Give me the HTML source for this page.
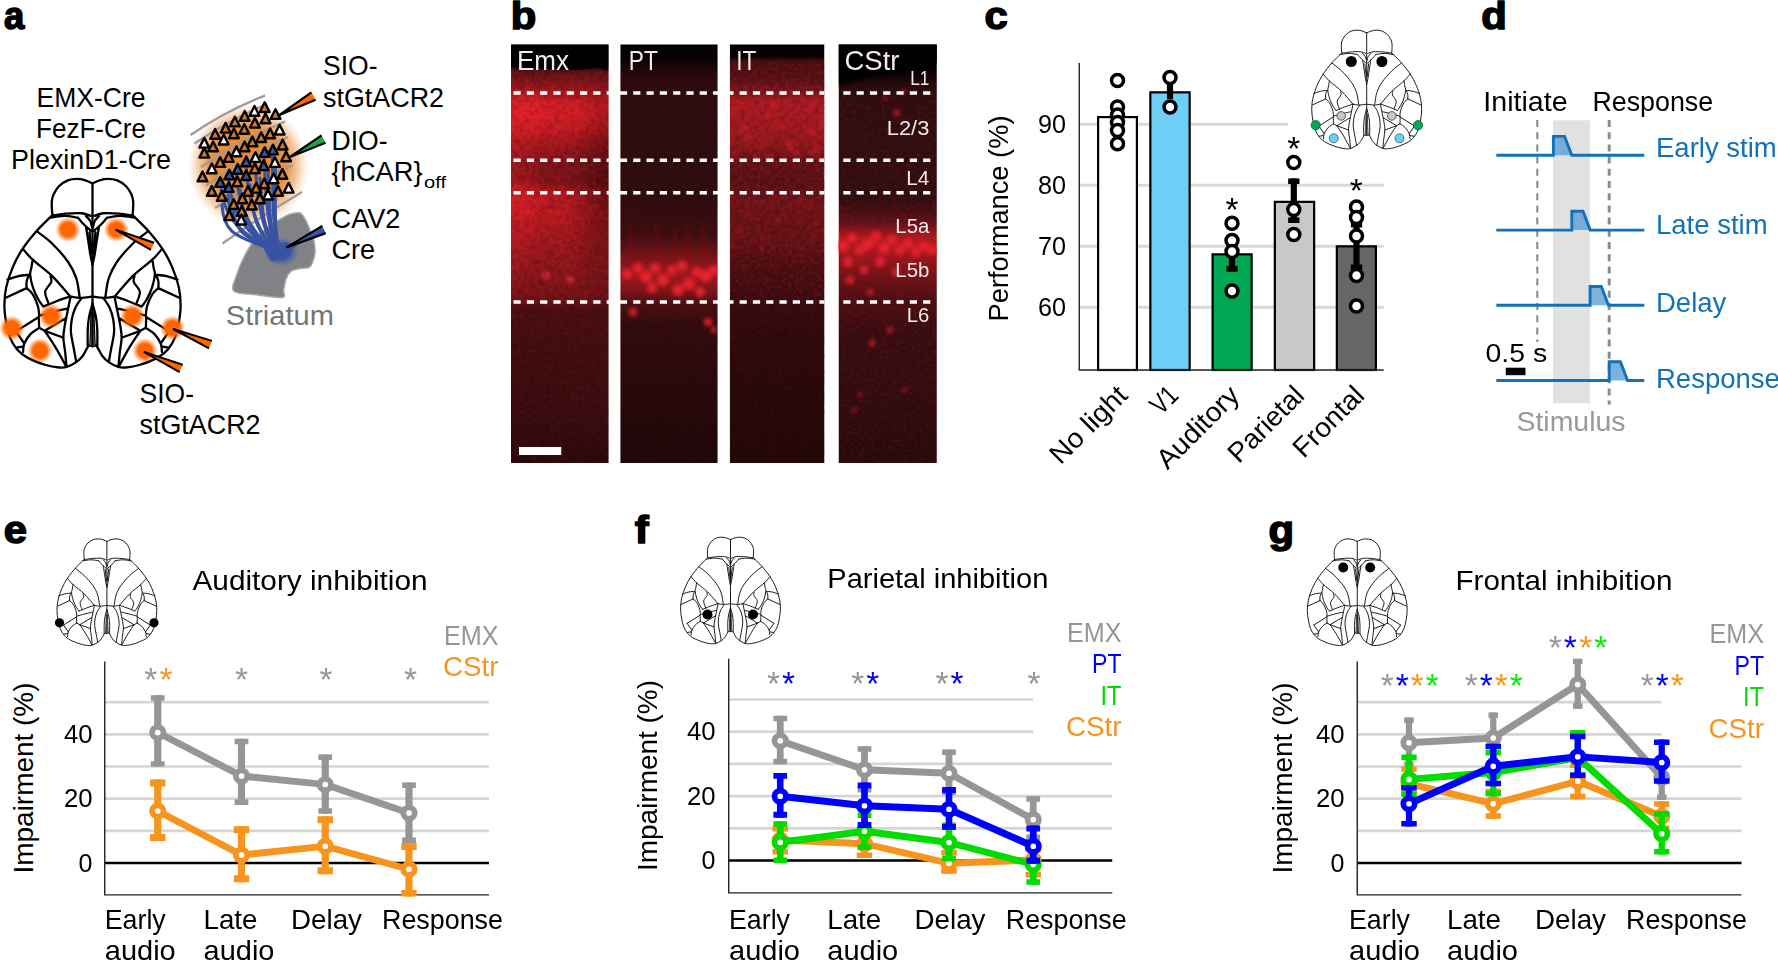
<!DOCTYPE html>
<html><head><meta charset="utf-8"><title>Figure</title>
<style>html,body{margin:0;padding:0;background:#fff}svg{display:block}text{font-family:'Liberation Sans', sans-serif}</style>
</head><body>
<svg width="1778" height="961" viewBox="0 0 1778 961">
<defs>
<g id="bh"><path d="M0.00,2.90 C-0.67,2.62 -2.55,1.62 -4.00,1.20 C-5.45,0.78 -7.03,0.40 -8.70,0.40 C-10.37,0.40 -12.28,0.52 -14.00,1.20 C-15.72,1.88 -17.67,3.20 -19.00,4.50 C-20.33,5.80 -21.33,7.62 -22.00,9.00 C-22.67,10.38 -22.83,11.47 -23.00,12.80 C-23.17,14.13 -23.05,15.68 -23.00,17.00 C-22.95,18.32 -22.75,20.08 -22.70,20.70 M-22.50,21.00 C-21.25,20.82 -17.75,20.12 -15.00,19.90 C-12.25,19.68 -8.33,19.48 -6.00,19.70 C-3.67,19.92 -1.83,20.95 -1.00,21.20 M-24.30,22.30 C-22.92,22.12 -18.68,21.22 -16.00,21.20 C-13.32,21.18 -9.50,22.03 -8.20,22.20 M-22.70,20.70 C-22.97,20.97 -22.85,20.85 -24.30,22.30 C-25.75,23.75 -28.87,26.52 -31.40,29.40 C-33.93,32.28 -37.23,36.22 -39.50,39.60 C-41.77,42.98 -43.43,46.07 -45.00,49.70 C-46.57,53.33 -48.08,57.72 -48.90,61.40 C-49.72,65.08 -49.90,68.53 -49.90,71.80 C-49.90,75.07 -49.42,78.05 -48.90,81.00 C-48.38,83.95 -47.78,86.96 -46.75,89.50 C-45.72,92.04 -44.39,94.33 -42.70,96.25 C-41.01,98.17 -39.30,99.54 -36.60,101.00 C-33.90,102.46 -29.43,104.10 -26.50,105.00 C-23.57,105.90 -20.98,106.22 -19.00,106.40 C-17.02,106.58 -16.23,106.60 -14.60,106.10 C-12.97,105.60 -10.68,104.40 -9.20,103.40 C-7.72,102.40 -6.78,101.52 -5.70,100.10 C-4.62,98.68 -3.40,95.92 -2.70,94.90 C-2.00,93.88 -1.95,94.08 -1.50,94.00 C-1.05,93.92 -0.25,94.33 0.00,94.40 M-8.20,22.20 C-7.62,22.87 -5.95,24.95 -4.70,26.20 C-3.45,27.45 -1.37,29.12 -0.70,29.70 M-3.70,21.20 C-3.28,21.70 -1.77,23.15 -1.20,24.20 C-0.63,25.25 -0.45,26.95 -0.30,27.50 M-3.70,27.20 C-3.48,28.53 -2.82,32.55 -2.40,35.20 C-1.98,37.85 -1.60,40.88 -1.20,43.10 C-0.80,45.32 -0.20,47.60 0.00,48.50 M-1.70,30.50 L-0.40,42.00 M-31.60,29.80 C-30.15,30.95 -25.87,33.82 -22.90,36.70 C-19.93,39.58 -16.08,43.85 -13.80,47.10 C-11.52,50.35 -10.28,52.95 -9.20,56.20 C-8.12,59.45 -7.62,64.87 -7.30,66.60 M-39.50,39.60 C-38.57,40.63 -36.67,43.25 -33.90,45.80 C-31.13,48.35 -26.45,51.45 -22.90,54.90 C-19.35,58.35 -14.32,64.57 -12.60,66.50 M-33.90,45.80 C-34.02,46.55 -34.37,48.88 -34.60,50.30 C-34.83,51.72 -35.47,52.38 -35.30,54.30 C-35.13,56.22 -34.40,59.43 -33.60,61.80 C-32.80,64.17 -31.47,66.77 -30.50,68.50 C-29.53,70.23 -28.25,71.58 -27.80,72.20 M-48.10,57.00 C-47.08,56.67 -44.05,55.45 -42.00,55.00 C-39.95,54.55 -36.83,54.42 -35.80,54.30 M-36.00,54.50 C-36.22,55.08 -37.08,56.78 -37.30,58.00 C-37.52,59.22 -37.30,61.17 -37.30,61.80 M-37.30,61.80 L-49.10,67.20 M-37.30,61.80 C-36.73,62.35 -34.97,63.42 -33.90,65.10 C-32.83,66.78 -31.52,69.87 -30.90,71.90 C-30.28,73.93 -30.28,76.28 -30.20,77.30 C-30.12,78.32 -30.40,76.87 -30.40,78.00 C-30.40,79.13 -30.23,83.08 -30.20,84.10 M-30.40,78.00 L-43.40,86.10 M-30.20,84.10 L-27.10,85.80 M-30.20,84.10 C-31.00,84.67 -33.60,86.03 -35.00,87.50 C-36.40,88.97 -37.88,91.22 -38.60,92.90 C-39.32,94.58 -39.18,96.82 -39.30,97.60 M-43.40,86.10 L-38.60,92.90 M-43.00,95.20 L-39.30,94.60 M-27.10,85.80 L-15.20,78.70 M-27.10,85.80 L-16.40,89.70 M-27.10,85.80 C-26.08,87.33 -23.02,91.68 -21.00,95.00 C-18.98,98.32 -16.00,103.92 -15.00,105.70 M-27.80,72.20 C-26.50,71.67 -22.53,69.95 -20.00,69.00 C-17.47,68.05 -13.83,66.92 -12.60,66.50 M-12.60,66.50 C-11.67,66.63 -9.10,67.28 -7.00,67.30 C-4.90,67.32 -1.17,66.72 0.00,66.60 M-30.20,77.30 C-28.83,76.92 -24.65,75.67 -22.00,75.00 C-19.35,74.33 -15.58,73.58 -14.30,73.30 M-12.45,66.60 C-12.66,67.63 -13.16,70.12 -13.70,72.80 C-14.24,75.48 -15.23,79.88 -15.70,82.70 C-16.17,85.52 -16.53,87.22 -16.50,89.70 C-16.47,92.18 -15.80,94.92 -15.50,97.60 C-15.20,100.28 -14.83,104.43 -14.70,105.80 M-6.20,67.40 C-6.78,68.30 -8.78,70.82 -9.70,72.80 C-10.62,74.78 -11.28,76.98 -11.70,79.30 C-12.12,81.62 -12.37,84.05 -12.20,86.70 C-12.03,89.35 -11.20,92.43 -10.70,95.20 C-10.20,97.97 -9.45,101.95 -9.20,103.30 M0.00,70.50 C-0.32,71.70 -1.45,75.25 -1.90,77.70 C-2.35,80.15 -2.57,82.37 -2.70,85.20 C-2.83,88.03 -2.70,93.12 -2.70,94.70 M-0.50,76.00 L-1.20,94.30 M-23.80,55.00 C-23.73,55.57 -22.90,56.93 -23.40,58.40 C-23.90,59.87 -26.52,61.88 -26.80,63.80 C-27.08,65.72 -25.43,68.72 -25.10,69.90 C-24.77,71.08 -24.85,70.73 -24.80,70.90" fill="none" vector-effect="non-scaling-stroke"/><path d="M0,76 L-0.5,76 L-1.2,94.3 L0,94.4Z" fill="#888" stroke="none"/></g><g id="brain"><use href="#bh"/><use href="#bh" transform="scale(-1,1)"/><path d="M0,2.9 L0,94.4" vector-effect="non-scaling-stroke"/></g>
<radialGradient id="og"><stop offset="0" stop-color="#ff6600"/><stop offset="0.55" stop-color="#ff6600"/><stop offset="1" stop-color="#ff6600" stop-opacity="0"/></radialGradient>
<radialGradient id="glow"><stop offset="0" stop-color="#e8862a"/><stop offset="0.62" stop-color="#e8923f"/><stop offset="0.8" stop-color="#f0b47c" stop-opacity="0.75"/><stop offset="1" stop-color="#f7d9b8" stop-opacity="0"/></radialGradient>
<linearGradient id="ogr" x1="0" x2="1" y1="0" y2="0"><stop offset="0" stop-color="#f26a1b"/><stop offset="0.45" stop-color="#e8731f"/><stop offset="1" stop-color="#1da34a"/></linearGradient>
<radialGradient id="bglow"><stop offset="0" stop-color="#3953a4"/><stop offset="0.5" stop-color="#3953a4"/><stop offset="1" stop-color="#3953a4" stop-opacity="0"/></radialGradient>
<linearGradient id="gE" x1="0" y1="0" x2="0" y2="1"><stop offset="0.0000" stop-color="#000000"/><stop offset="0.0514" stop-color="#0a0000"/><stop offset="0.0633" stop-color="#5a1014"/><stop offset="0.0848" stop-color="#7a151a"/><stop offset="0.1159" stop-color="#a8191f"/><stop offset="0.1446" stop-color="#d01e26"/><stop offset="0.2043" stop-color="#c41c24"/><stop offset="0.2521" stop-color="#9c181e"/><stop offset="0.2808" stop-color="#82161a"/><stop offset="0.3286" stop-color="#7e1519"/><stop offset="0.3596" stop-color="#b81b22"/><stop offset="0.4074" stop-color="#bc1b22"/><stop offset="0.4671" stop-color="#a4191e"/><stop offset="0.5388" stop-color="#8c171b"/><stop offset="0.6057" stop-color="#721418"/><stop offset="0.6344" stop-color="#4a0f12"/><stop offset="0.7539" stop-color="#400e11"/><stop offset="0.8973" stop-color="#380c0f"/><stop offset="1.0000" stop-color="#2a090b"/></linearGradient>
<linearGradient id="gP" x1="0" y1="0" x2="0" y2="1"><stop offset="0.0000" stop-color="#000000"/><stop offset="0.0370" stop-color="#0c0203"/><stop offset="0.0753" stop-color="#2a0a0c"/><stop offset="0.1326" stop-color="#2c0c0e"/><stop offset="0.3716" stop-color="#2d0c0e"/><stop offset="0.4552" stop-color="#3a0d10"/><stop offset="0.5102" stop-color="#781419"/><stop offset="0.5508" stop-color="#a0181f"/><stop offset="0.5914" stop-color="#7a1419"/><stop offset="0.6177" stop-color="#4a0e12"/><stop offset="0.6703" stop-color="#300b0e"/><stop offset="1.0000" stop-color="#1e0708"/></linearGradient>
<linearGradient id="gI" x1="0" y1="0" x2="0" y2="1"><stop offset="0.0000" stop-color="#000000"/><stop offset="0.0275" stop-color="#080102"/><stop offset="0.0418" stop-color="#4a0f12"/><stop offset="0.0848" stop-color="#5c1216"/><stop offset="0.1159" stop-color="#80171c"/><stop offset="0.1326" stop-color="#a81c22"/><stop offset="0.1924" stop-color="#a41b21"/><stop offset="0.2401" stop-color="#90191e"/><stop offset="0.2760" stop-color="#641317"/><stop offset="0.3357" stop-color="#5a1215"/><stop offset="0.3716" stop-color="#70151a"/><stop offset="0.4671" stop-color="#641317"/><stop offset="0.5388" stop-color="#4a0f12"/><stop offset="0.6105" stop-color="#3a0c0f"/><stop offset="0.7061" stop-color="#2e0a0d"/><stop offset="1.0000" stop-color="#230809"/></linearGradient>
<linearGradient id="gC" x1="0" y1="0" x2="0" y2="1"><stop offset="0.0000" stop-color="#000000"/><stop offset="0.0609" stop-color="#050101"/><stop offset="0.0944" stop-color="#260a0c"/><stop offset="0.1326" stop-color="#2e0d10"/><stop offset="0.3716" stop-color="#300d10"/><stop offset="0.4241" stop-color="#5a1216"/><stop offset="0.4624" stop-color="#b01a21"/><stop offset="0.5030" stop-color="#a0181f"/><stop offset="0.5436" stop-color="#781419"/><stop offset="0.6105" stop-color="#4a0f13"/><stop offset="0.6822" stop-color="#360d10"/><stop offset="0.8495" stop-color="#300c0f"/><stop offset="1.0000" stop-color="#260a0c"/></linearGradient>
<filter id="bl3" x="-50%" y="-50%" width="200%" height="200%"><feGaussianBlur stdDeviation="2.2"/></filter>
<filter id="bl8" x="-50%" y="-50%" width="200%" height="200%"><feGaussianBlur stdDeviation="9"/></filter>
<radialGradient id="rD"><stop offset="0" stop-color="#28080a" stop-opacity="0.5"/><stop offset="1" stop-color="#28080a" stop-opacity="0"/></radialGradient>
<radialGradient id="rB"><stop offset="0" stop-color="#ff2a34" stop-opacity="0.3"/><stop offset="1" stop-color="#ff2a34" stop-opacity="0"/></radialGradient>
<filter id="noise" x="0" y="0" width="100%" height="100%" color-interpolation-filters="sRGB"><feTurbulence type="fractalNoise" baseFrequency="0.2" numOctaves="3" seed="7"/><feColorMatrix values="0 0 0 0 0.1  0 0 0 0 0.02  0 0 0 0 0.03  1.7 0 0 0 -0.6"/></filter>
<filter id="noise2" x="0" y="0" width="100%" height="100%" color-interpolation-filters="sRGB"><feTurbulence type="fractalNoise" baseFrequency="0.28" numOctaves="2" seed="11"/><feColorMatrix values="0 0 0 0 0.92  0 0 0 0 0.13  0 0 0 0 0.17  2.2 0 0 0 -1.05"/></filter>
</defs>
<text transform="translate(3.90,29.20) scale(0.96,1)" font-size="38" font-weight="bold" stroke="#000" stroke-width="1.5" stroke-linejoin="round">a</text>
<text transform="translate(510.80,28.80) scale(1.10,1)" font-size="38" font-weight="bold" stroke="#000" stroke-width="1.5" stroke-linejoin="round">b</text>
<text transform="translate(984.60,29.30) scale(1.10,1)" font-size="38" font-weight="bold" stroke="#000" stroke-width="1.5" stroke-linejoin="round">c</text>
<text transform="translate(1481.30,29.20) scale(1.10,1)" font-size="38" font-weight="bold" stroke="#000" stroke-width="1.5" stroke-linejoin="round">d</text>
<text transform="translate(3.80,543.00) scale(1.10,1)" font-size="38" font-weight="bold" stroke="#000" stroke-width="1.5" stroke-linejoin="round">e</text>
<text transform="translate(634.80,542.50) scale(1.10,1)" font-size="38" font-weight="bold" stroke="#000" stroke-width="1.5" stroke-linejoin="round">f</text>
<text transform="translate(1268.60,542.60) scale(1.10,1)" font-size="38" font-weight="bold" stroke="#000" stroke-width="1.5" stroke-linejoin="round">g</text>
<text x="91.00" y="106.50" font-size="27.5" fill="#000" text-anchor="middle" textLength="109.0" lengthAdjust="spacingAndGlyphs">EMX-Cre</text>
<text x="91.00" y="137.50" font-size="27.5" fill="#000" text-anchor="middle" textLength="110.0" lengthAdjust="spacingAndGlyphs">FezF-Cre</text>
<text x="91.00" y="168.50" font-size="27.5" fill="#000" text-anchor="middle" textLength="160.0" lengthAdjust="spacingAndGlyphs">PlexinD1-Cre</text>
<use href="#brain" transform="translate(92.50,178.20) scale(1.7660,1.7790)" stroke="#000" stroke-width="2.30" fill="none" stroke-linecap="round" stroke-linejoin="round"/>
<circle cx="67.9" cy="229.6" r="12.5" fill="url(#og)"/>
<circle cx="116.2" cy="229.6" r="12.5" fill="url(#og)"/>
<circle cx="51.2" cy="316.2" r="12.5" fill="url(#og)"/>
<circle cx="132.5" cy="316.2" r="12.5" fill="url(#og)"/>
<circle cx="11.9" cy="328.1" r="12.5" fill="url(#og)"/>
<circle cx="172.5" cy="328.1" r="12.5" fill="url(#og)"/>
<circle cx="40.0" cy="350.6" r="12.5" fill="url(#og)"/>
<circle cx="145.0" cy="350.6" r="12.5" fill="url(#og)"/>
<path d="M115.6,229.6 L150.9,249.9 L154.1,242.7 Z" fill="#ff6600"/>
<path d="M115.6,229.6 L150.9,249.9 M115.6,229.6 L154.1,242.7" stroke="#000" stroke-width="2.0" fill="none" stroke-linecap="butt"/>
<path d="M173.1,329.0 L209.0,348.3 L212.0,340.9 Z" fill="#ff6600"/>
<path d="M173.1,329.0 L209.0,348.3 M173.1,329.0 L212.0,340.9" stroke="#000" stroke-width="2.0" fill="none" stroke-linecap="butt"/>
<path d="M143.8,351.9 L179.6,372.1 L182.8,364.7 Z" fill="#ff6600"/>
<path d="M143.8,351.9 L179.6,372.1 M143.8,351.9 L182.8,364.7" stroke="#000" stroke-width="2.0" fill="none" stroke-linecap="butt"/>
<text x="139.50" y="402.70" font-size="27.5" fill="#000" textLength="54.5" lengthAdjust="spacingAndGlyphs">SIO-</text>
<text x="139.50" y="434.00" font-size="27.5" fill="#000" textLength="121.0" lengthAdjust="spacingAndGlyphs">stGtACR2</text>
<text x="323.00" y="75.00" font-size="27.5" fill="#000" textLength="54.5" lengthAdjust="spacingAndGlyphs">SIO-</text>
<text x="323.00" y="106.50" font-size="27.5" fill="#000" textLength="121.0" lengthAdjust="spacingAndGlyphs">stGtACR2</text>
<text x="331.50" y="150.00" font-size="27.5" fill="#000" textLength="56.0" lengthAdjust="spacingAndGlyphs">DIO-</text>
<text x="331.50" y="181.00" font-size="27.5" fill="#000" textLength="91.0" lengthAdjust="spacingAndGlyphs">{hCAR}</text>
<text x="424.00" y="187.50" font-size="17" fill="#000" textLength="22.0" lengthAdjust="spacingAndGlyphs">off</text>
<text x="331.50" y="227.50" font-size="27.5" fill="#000" textLength="69.0" lengthAdjust="spacingAndGlyphs">CAV2</text>
<text x="331.50" y="258.50" font-size="27.5" fill="#000" textLength="43.5" lengthAdjust="spacingAndGlyphs">Cre</text>
<text x="225.80" y="325.30" font-size="27.5" fill="#737476" textLength="108.0" lengthAdjust="spacingAndGlyphs">Striatum</text>
<path d="M288.80,214.40 C290.67,214.17 297.10,211.87 300.00,213.00 C302.90,214.13 304.53,218.37 306.20,221.20 C307.87,224.03 308.73,226.87 310.00,230.00 C311.27,233.13 312.97,236.25 313.80,240.00 C314.63,243.75 315.22,248.75 315.00,252.50 C314.78,256.25 313.53,260.00 312.50,262.50 C311.47,265.00 311.08,266.45 308.80,267.50 C306.52,268.55 301.73,268.18 298.80,268.80 C295.87,269.42 293.30,269.53 291.20,271.20 C289.10,272.87 287.45,275.67 286.20,278.80 C284.95,281.93 284.33,286.87 283.70,290.00 C283.07,293.13 286.68,296.77 282.40,297.60 C278.12,298.43 266.07,296.05 258.00,295.00 C249.93,293.95 237.63,294.43 234.00,291.30 C230.37,288.17 234.37,282.25 236.20,276.20 C238.03,270.15 241.45,261.67 245.00,255.00 C248.55,248.33 252.92,241.40 257.50,236.20 C262.08,231.00 267.28,227.43 272.50,223.80 C277.72,220.17 286.08,215.97 288.80,214.40Z" fill="#808285" stroke="#a7a9ac" stroke-width="1.5"/>
<ellipse cx="248.5" cy="166" rx="61" ry="63" fill="url(#glow)"/>
<path d="M190.6,135.0 Q225.5,110.9 265.0,95.6" stroke="#9b9b9b" stroke-width="2.2" fill="none"/>
<path d="M194.5,143.5 Q228.8,120.2 267.0,104.0" stroke="#9b9b9b" stroke-width="2.2" fill="none"/>
<path d="M201.0,167.0 Q241.1,140.7 285.0,121.5" stroke="#9b9b9b" stroke-width="2.2" fill="none"/>
<path d="M206.0,185.5 Q245.0,157.8 288.0,137.0" stroke="#9b9b9b" stroke-width="2.2" fill="none"/>
<path d="M215.0,208.0 Q252.6,183.9 293.0,165.0" stroke="#9b9b9b" stroke-width="2.2" fill="none"/>
<path d="M222.5,243.5 Q261.2,216.1 302.0,192.0" stroke="#9b9b9b" stroke-width="2.2" fill="none"/>
<path d="M221.0,185.0 C223.0,220.0 244.5,236.0 275.5,252.0" stroke="#3953a4" stroke-width="3.1" fill="none" stroke-linecap="round"/>
<path d="M229.0,180.0 C231.0,215.0 248.5,236.0 276.5,252.0" stroke="#3953a4" stroke-width="3.1" fill="none" stroke-linecap="round"/>
<path d="M236.0,172.0 C238.0,207.0 252.0,236.0 277.3,252.0" stroke="#3953a4" stroke-width="3.1" fill="none" stroke-linecap="round"/>
<path d="M246.0,165.0 C248.0,200.0 257.0,236.0 278.5,252.0" stroke="#3953a4" stroke-width="3.1" fill="none" stroke-linecap="round"/>
<path d="M255.0,162.0 C257.0,197.0 261.5,236.0 279.6,252.0" stroke="#3953a4" stroke-width="3.1" fill="none" stroke-linecap="round"/>
<path d="M264.0,155.0 C266.0,190.0 266.0,236.0 280.7,252.0" stroke="#3953a4" stroke-width="3.1" fill="none" stroke-linecap="round"/>
<path d="M272.0,150.0 C274.0,185.0 270.0,236.0 281.6,252.0" stroke="#3953a4" stroke-width="3.1" fill="none" stroke-linecap="round"/>
<path d="M228.0,195.0 C230.0,230.0 248.0,236.0 276.4,252.0" stroke="#3953a4" stroke-width="3.1" fill="none" stroke-linecap="round"/>
<path d="M222.0,205.0 C224.0,240.0 245.0,236.0 275.6,252.0" stroke="#3953a4" stroke-width="3.1" fill="none" stroke-linecap="round"/>
<path d="M275.0,160.0 C277.0,195.0 271.5,236.0 282.0,252.0" stroke="#3953a4" stroke-width="3.1" fill="none" stroke-linecap="round"/>
<path d="M268.0,170.0 C270.0,205.0 268.0,236.0 281.2,252.0" stroke="#3953a4" stroke-width="3.1" fill="none" stroke-linecap="round"/>
<path d="M240.0,190.0 C242.0,225.0 254.0,236.0 277.8,252.0" stroke="#3953a4" stroke-width="3.1" fill="none" stroke-linecap="round"/>
<path d="M250.0,185.0 C252.0,220.0 259.0,236.0 279.0,252.0" stroke="#3953a4" stroke-width="3.1" fill="none" stroke-linecap="round"/>
<path d="M260.0,178.0 C262.0,213.0 264.0,236.0 280.2,252.0" stroke="#3953a4" stroke-width="3.1" fill="none" stroke-linecap="round"/>
<path d="M233.0,205.0 C235.0,240.0 250.5,236.0 277.0,252.0" stroke="#3953a4" stroke-width="3.1" fill="none" stroke-linecap="round"/>
<ellipse cx="281" cy="252" rx="17" ry="14" fill="url(#bglow)"/>
<path d="M262,246 L272,262 L280,258 L290,250 L298,246 L286,242 Z" fill="#3953a4"/>
<path d="M264.7,102.3 L269.6,112.0 L259.8,112.0 Z" fill="url(#ogr)" stroke="#000" stroke-width="2.4" stroke-linejoin="round"/>
<path d="M254.5,106.0 L259.4,115.7 L249.6,115.7 Z" fill="#fff" stroke="#000" stroke-width="2.4" stroke-linejoin="round"/>
<path d="M275.5,109.2 L280.4,118.9 L270.6,118.9 Z" fill="url(#ogr)" stroke="#000" stroke-width="2.4" stroke-linejoin="round"/>
<path d="M244.7,111.0 L249.6,120.7 L239.8,120.7 Z" fill="url(#ogr)" stroke="#000" stroke-width="2.4" stroke-linejoin="round"/>
<path d="M265.5,113.5 L270.4,123.2 L260.6,123.2 Z" fill="url(#ogr)" stroke="#000" stroke-width="2.4" stroke-linejoin="round"/>
<path d="M234.9,116.7 L239.8,126.4 L230.0,126.4 Z" fill="url(#ogr)" stroke="#000" stroke-width="2.4" stroke-linejoin="round"/>
<path d="M254.9,117.9 L259.8,127.6 L250.0,127.6 Z" fill="url(#ogr)" stroke="#000" stroke-width="2.4" stroke-linejoin="round"/>
<path d="M225.6,122.9 L230.5,132.6 L220.7,132.6 Z" fill="url(#ogr)" stroke="#000" stroke-width="2.4" stroke-linejoin="round"/>
<path d="M244.3,124.1 L249.2,133.8 L239.4,133.8 Z" fill="url(#ogr)" stroke="#000" stroke-width="2.4" stroke-linejoin="round"/>
<path d="M279.6,124.8 L284.5,134.5 L274.7,134.5 Z" fill="#fff" stroke="#000" stroke-width="2.4" stroke-linejoin="round"/>
<path d="M233.9,128.5 L238.8,138.2 L229.0,138.2 Z" fill="url(#ogr)" stroke="#000" stroke-width="2.4" stroke-linejoin="round"/>
<path d="M270.1,128.5 L275.0,138.2 L265.2,138.2 Z" fill="url(#ogr)" stroke="#000" stroke-width="2.4" stroke-linejoin="round"/>
<path d="M215.2,129.1 L220.1,138.8 L210.3,138.8 Z" fill="url(#ogr)" stroke="#000" stroke-width="2.4" stroke-linejoin="round"/>
<path d="M261.2,132.3 L266.1,142.0 L256.3,142.0 Z" fill="url(#ogr)" stroke="#000" stroke-width="2.4" stroke-linejoin="round"/>
<path d="M223.7,134.8 L228.6,144.5 L218.8,144.5 Z" fill="#fff" stroke="#000" stroke-width="2.4" stroke-linejoin="round"/>
<path d="M252.4,136.6 L257.3,146.3 L247.5,146.3 Z" fill="url(#ogr)" stroke="#000" stroke-width="2.4" stroke-linejoin="round"/>
<path d="M204.3,137.9 L209.2,147.6 L199.4,147.6 Z" fill="#fff" stroke="#000" stroke-width="2.4" stroke-linejoin="round"/>
<path d="M282.6,139.8 L287.5,149.5 L277.7,149.5 Z" fill="url(#ogr)" stroke="#000" stroke-width="2.4" stroke-linejoin="round"/>
<path d="M213.1,141.6 L218.0,151.3 L208.2,151.3 Z" fill="url(#ogr)" stroke="#000" stroke-width="2.4" stroke-linejoin="round"/>
<path d="M244.6,141.6 L249.5,151.3 L239.7,151.3 Z" fill="url(#ogr)" stroke="#000" stroke-width="2.4" stroke-linejoin="round"/>
<path d="M273.0,144.7 L277.9,154.4 L268.1,154.4 Z" fill="#3953a4" stroke="#000" stroke-width="2.4" stroke-linejoin="round"/>
<path d="M236.4,146.6 L241.3,156.3 L231.5,156.3 Z" fill="#fff" stroke="#000" stroke-width="2.4" stroke-linejoin="round"/>
<path d="M264.7,147.2 L269.6,156.9 L259.8,156.9 Z" fill="#3953a4" stroke="#000" stroke-width="2.4" stroke-linejoin="round"/>
<path d="M204.3,147.9 L209.2,157.6 L199.4,157.6 Z" fill="url(#ogr)" stroke="#000" stroke-width="2.4" stroke-linejoin="round"/>
<path d="M286.1,151.6 L291.0,161.3 L281.2,161.3 Z" fill="url(#ogr)" stroke="#000" stroke-width="2.4" stroke-linejoin="round"/>
<path d="M228.7,152.2 L233.6,161.9 L223.8,161.9 Z" fill="url(#ogr)" stroke="#000" stroke-width="2.4" stroke-linejoin="round"/>
<path d="M255.5,152.2 L260.4,161.9 L250.6,161.9 Z" fill="#fff" stroke="#000" stroke-width="2.4" stroke-linejoin="round"/>
<path d="M246.2,156.6 L251.1,166.3 L241.3,166.3 Z" fill="#3953a4" stroke="#000" stroke-width="2.4" stroke-linejoin="round"/>
<path d="M220.2,157.2 L225.1,166.9 L215.3,166.9 Z" fill="url(#ogr)" stroke="#000" stroke-width="2.4" stroke-linejoin="round"/>
<path d="M274.9,157.2 L279.8,166.9 L270.0,166.9 Z" fill="#fff" stroke="#000" stroke-width="2.4" stroke-linejoin="round"/>
<path d="M263.7,160.4 L268.6,170.1 L258.8,170.1 Z" fill="#3953a4" stroke="#000" stroke-width="2.4" stroke-linejoin="round"/>
<path d="M211.8,163.5 L216.7,173.2 L206.9,173.2 Z" fill="#fff" stroke="#000" stroke-width="2.4" stroke-linejoin="round"/>
<path d="M254.9,163.5 L259.8,173.2 L250.0,173.2 Z" fill="url(#ogr)" stroke="#000" stroke-width="2.4" stroke-linejoin="round"/>
<path d="M237.7,164.1 L242.6,173.8 L232.8,173.8 Z" fill="#3953a4" stroke="#000" stroke-width="2.4" stroke-linejoin="round"/>
<path d="M282.4,169.1 L287.3,178.8 L277.5,178.8 Z" fill="url(#ogr)" stroke="#000" stroke-width="2.4" stroke-linejoin="round"/>
<path d="M229.3,169.7 L234.2,179.4 L224.4,179.4 Z" fill="#3953a4" stroke="#000" stroke-width="2.4" stroke-linejoin="round"/>
<path d="M246.2,170.3 L251.1,180.0 L241.3,180.0 Z" fill="#3953a4" stroke="#000" stroke-width="2.4" stroke-linejoin="round"/>
<path d="M202.5,171.6 L207.4,181.3 L197.6,181.3 Z" fill="url(#ogr)" stroke="#000" stroke-width="2.4" stroke-linejoin="round"/>
<path d="M273.6,173.5 L278.5,183.2 L268.7,183.2 Z" fill="#fff" stroke="#000" stroke-width="2.4" stroke-linejoin="round"/>
<path d="M237.4,176.6 L242.3,186.3 L232.5,186.3 Z" fill="url(#ogr)" stroke="#000" stroke-width="2.4" stroke-linejoin="round"/>
<path d="M220.2,177.2 L225.1,186.9 L215.3,186.9 Z" fill="#3953a4" stroke="#000" stroke-width="2.4" stroke-linejoin="round"/>
<path d="M264.3,178.6 L269.2,188.3 L259.4,188.3 Z" fill="url(#ogr)" stroke="#000" stroke-width="2.4" stroke-linejoin="round"/>
<path d="M228.7,182.2 L233.6,191.9 L223.8,191.9 Z" fill="#3953a4" stroke="#000" stroke-width="2.4" stroke-linejoin="round"/>
<path d="M256.2,182.9 L261.1,192.6 L251.3,192.6 Z" fill="url(#ogr)" stroke="#000" stroke-width="2.4" stroke-linejoin="round"/>
<path d="M288.6,182.9 L293.5,192.6 L283.7,192.6 Z" fill="#fff" stroke="#000" stroke-width="2.4" stroke-linejoin="round"/>
<path d="M211.8,186.1 L216.7,195.8 L206.9,195.8 Z" fill="url(#ogr)" stroke="#000" stroke-width="2.4" stroke-linejoin="round"/>
<path d="M248.0,186.1 L252.9,195.8 L243.1,195.8 Z" fill="url(#ogr)" stroke="#000" stroke-width="2.4" stroke-linejoin="round"/>
<path d="M278.0,186.1 L282.9,195.8 L273.1,195.8 Z" fill="url(#ogr)" stroke="#000" stroke-width="2.4" stroke-linejoin="round"/>
<path d="M268.0,189.8 L272.9,199.5 L263.1,199.5 Z" fill="#fff" stroke="#000" stroke-width="2.4" stroke-linejoin="round"/>
<path d="M221.8,191.0 L226.7,200.7 L216.9,200.7 Z" fill="url(#ogr)" stroke="#000" stroke-width="2.4" stroke-linejoin="round"/>
<path d="M259.9,193.5 L264.8,203.2 L255.0,203.2 Z" fill="url(#ogr)" stroke="#000" stroke-width="2.4" stroke-linejoin="round"/>
<path d="M242.4,193.5 L247.3,203.2 L237.5,203.2 Z" fill="url(#ogr)" stroke="#000" stroke-width="2.4" stroke-linejoin="round"/>
<path d="M233.7,199.2 L238.6,208.9 L228.8,208.9 Z" fill="url(#ogr)" stroke="#000" stroke-width="2.4" stroke-linejoin="round"/>
<path d="M251.8,199.8 L256.7,209.5 L246.9,209.5 Z" fill="url(#ogr)" stroke="#000" stroke-width="2.4" stroke-linejoin="round"/>
<path d="M241.8,206.0 L246.7,215.7 L236.9,215.7 Z" fill="url(#ogr)" stroke="#000" stroke-width="2.4" stroke-linejoin="round"/>
<path d="M229.3,210.4 L234.2,220.1 L224.4,220.1 Z" fill="url(#ogr)" stroke="#000" stroke-width="2.4" stroke-linejoin="round"/>
<path d="M241.2,214.8 L246.1,224.5 L236.3,224.5 Z" fill="#fff" stroke="#000" stroke-width="2.4" stroke-linejoin="round"/>
<path d="M279.5,115.0 L315.6,99.7 L311.4,92.3 Z" fill="#ff6600"/>
<path d="M279.5,115.0 L315.6,99.7 M279.5,115.0 L311.4,92.3" stroke="#000" stroke-width="2.2" fill="none"/>
<path d="M290.0,157.0 L325.5,142.7 L321.5,135.3 Z" fill="#1da34a"/>
<path d="M290.0,157.0 L325.5,142.7 M290.0,157.0 L321.5,135.3" stroke="#000" stroke-width="2.2" fill="none"/>
<path d="M286.5,247.5 L325.7,233.1 L322.3,225.9 Z" fill="#3953a4"/>
<path d="M286.5,247.5 L325.7,233.1 M286.5,247.5 L322.3,225.9" stroke="#000" stroke-width="2.2" fill="none"/>
<clipPath id="cp0"><rect x="511.00" y="44.5" width="97.75" height="418.5"/></clipPath>
<rect x="511.00" y="44.5" width="97.75" height="418.5" fill="url(#gE)"/>
<clipPath id="cp1"><rect x="620.25" y="44.5" width="97.50" height="418.5"/></clipPath>
<rect x="620.25" y="44.5" width="97.50" height="418.5" fill="url(#gP)"/>
<clipPath id="cp2"><rect x="729.75" y="44.5" width="94.50" height="418.5"/></clipPath>
<rect x="729.75" y="44.5" width="94.50" height="418.5" fill="url(#gI)"/>
<clipPath id="cp3"><rect x="838.75" y="44.5" width="98.00" height="418.5"/></clipPath>
<rect x="838.75" y="44.5" width="98.00" height="418.5" fill="url(#gC)"/>
<g clip-path="url(#cp0)"><ellipse cx="612" cy="195" rx="48" ry="135" fill="url(#rD)"/><ellipse cx="508" cy="190" rx="40" ry="130" fill="url(#rB)"/></g>
<g clip-path="url(#cp0)"><g filter="url(#bl8)"><ellipse cx="528" cy="112" rx="26" ry="16" fill="#f0222c" opacity="0.75"/><ellipse cx="575" cy="115" rx="18" ry="12" fill="#e82029" opacity="0.45"/><ellipse cx="520" cy="200" rx="22" ry="14" fill="#e82029" opacity="0.6"/><ellipse cx="604" cy="185" rx="8" ry="50" fill="#300a0c" opacity="0.25"/></g>
<g filter="url(#bl3)"><circle cx="546.5" cy="275.5" r="3.5" fill="#f0303a"/><circle cx="570" cy="280" r="3.5" fill="#f0303a"/></g>
<path d="M511,44.5 H608.75 V71 L604,70 L598,67 L590,69 L570,70 L540,68.5 L520,67 L511,66Z" fill="#000"/></g>
<g clip-path="url(#cp1)"><g filter="url(#bl3)"><circle cx="627" cy="274" r="5" fill="#f0242e" opacity="0.9"/><circle cx="638" cy="268" r="5" fill="#f0242e" opacity="0.9"/><circle cx="646" cy="277" r="6" fill="#f0242e" opacity="0.9"/><circle cx="655" cy="268" r="5" fill="#f0242e" opacity="0.9"/><circle cx="663" cy="280" r="6" fill="#f0242e" opacity="0.9"/><circle cx="672" cy="270" r="5" fill="#f0242e" opacity="0.9"/><circle cx="682" cy="266" r="5" fill="#f0242e" opacity="0.9"/><circle cx="689" cy="284" r="6" fill="#f0242e" opacity="0.9"/><circle cx="697" cy="272" r="5" fill="#f0242e" opacity="0.9"/><circle cx="706" cy="276" r="6" fill="#f0242e" opacity="0.9"/><circle cx="714" cy="270" r="5" fill="#f0242e" opacity="0.9"/><circle cx="652" cy="288" r="5" fill="#f0242e" opacity="0.9"/><circle cx="678" cy="290" r="6" fill="#f0242e" opacity="0.9"/><circle cx="700" cy="292" r="5" fill="#f0242e" opacity="0.9"/><circle cx="633" cy="312" r="4" fill="#f0242e" opacity="0.9"/><circle cx="708" cy="322" r="4" fill="#f0242e" opacity="0.9"/><circle cx="714" cy="330" r="3" fill="#f0242e" opacity="0.9"/><path d="M632,268 L630,225" stroke="#b01a22" stroke-width="1.5" opacity="0.5"/><path d="M646,268 L645,225" stroke="#b01a22" stroke-width="1.5" opacity="0.5"/><path d="M660,268 L657,225" stroke="#b01a22" stroke-width="1.5" opacity="0.5"/><path d="M673,268 L675,225" stroke="#b01a22" stroke-width="1.5" opacity="0.5"/><path d="M688,268 L688,225" stroke="#b01a22" stroke-width="1.5" opacity="0.5"/><path d="M703,268 L703,225" stroke="#b01a22" stroke-width="1.5" opacity="0.5"/></g></g>
<g clip-path="url(#cp2)"><g filter="url(#bl3)"><circle cx="745.3" cy="102.1" r="2.3" fill="#e0242c" opacity="0.45"/><circle cx="815.5" cy="147.6" r="3.0" fill="#e0242c" opacity="0.45"/><circle cx="751.4" cy="131.3" r="2.1" fill="#e0242c" opacity="0.45"/><circle cx="746.9" cy="104.6" r="1.9" fill="#e0242c" opacity="0.45"/><circle cx="816.3" cy="149.4" r="3.1" fill="#e0242c" opacity="0.45"/><circle cx="804.6" cy="110.0" r="2.1" fill="#e0242c" opacity="0.45"/><circle cx="788.7" cy="143.4" r="3.2" fill="#e0242c" opacity="0.45"/><circle cx="812.0" cy="103.4" r="2.7" fill="#e0242c" opacity="0.45"/><circle cx="792.8" cy="129.4" r="1.9" fill="#e0242c" opacity="0.45"/><circle cx="774.6" cy="103.5" r="3.4" fill="#e0242c" opacity="0.45"/><circle cx="810.6" cy="132.0" r="2.1" fill="#e0242c" opacity="0.45"/><circle cx="814.6" cy="133.5" r="3.3" fill="#e0242c" opacity="0.45"/><circle cx="809.0" cy="129.5" r="2.3" fill="#e0242c" opacity="0.45"/><circle cx="786.1" cy="124.7" r="1.8" fill="#e0242c" opacity="0.45"/><circle cx="759.1" cy="148.4" r="1.6" fill="#e0242c" opacity="0.45"/><circle cx="735.3" cy="136.8" r="2.1" fill="#e0242c" opacity="0.45"/><circle cx="780.2" cy="127.2" r="2.2" fill="#e0242c" opacity="0.45"/><circle cx="822.7" cy="110.1" r="2.3" fill="#e0242c" opacity="0.45"/><circle cx="749.6" cy="137.2" r="2.1" fill="#e0242c" opacity="0.45"/><circle cx="763.7" cy="144.3" r="2.1" fill="#e0242c" opacity="0.45"/><circle cx="782.4" cy="154.1" r="1.7" fill="#e0242c" opacity="0.45"/><circle cx="736.7" cy="112.2" r="3.0" fill="#e0242c" opacity="0.45"/><circle cx="787.6" cy="112.7" r="2.2" fill="#e0242c" opacity="0.45"/><circle cx="747.3" cy="126.5" r="1.6" fill="#e0242c" opacity="0.45"/><circle cx="795.2" cy="153.5" r="3.4" fill="#e0242c" opacity="0.45"/><circle cx="798.6" cy="157.5" r="1.5" fill="#e0242c" opacity="0.45"/><circle cx="757.6" cy="157.9" r="3.1" fill="#e0242c" opacity="0.45"/><circle cx="768.8" cy="156.5" r="2.7" fill="#e0242c" opacity="0.45"/><circle cx="806.2" cy="116.2" r="1.9" fill="#e0242c" opacity="0.45"/><circle cx="771.9" cy="106.5" r="2.3" fill="#e0242c" opacity="0.45"/><circle cx="819.5" cy="118.5" r="1.5" fill="#e0242c" opacity="0.45"/><circle cx="735.1" cy="108.5" r="3.1" fill="#e0242c" opacity="0.45"/><circle cx="764.4" cy="116.0" r="1.7" fill="#e0242c" opacity="0.45"/><circle cx="821.3" cy="124.3" r="1.9" fill="#e0242c" opacity="0.45"/><circle cx="736.5" cy="101.4" r="1.8" fill="#e0242c" opacity="0.45"/><circle cx="793.3" cy="107.3" r="1.6" fill="#e0242c" opacity="0.45"/><circle cx="776.1" cy="113.4" r="3.5" fill="#e0242c" opacity="0.45"/><circle cx="742.2" cy="130.8" r="3.0" fill="#e0242c" opacity="0.45"/><circle cx="768.7" cy="159.2" r="2.5" fill="#e0242c" opacity="0.45"/><circle cx="753.3" cy="123.5" r="1.6" fill="#e0242c" opacity="0.45"/><circle cx="769.8" cy="113.4" r="3.3" fill="#e0242c" opacity="0.45"/><circle cx="807.5" cy="128.9" r="1.6" fill="#e0242c" opacity="0.45"/><circle cx="754.4" cy="113.0" r="1.9" fill="#e0242c" opacity="0.45"/><circle cx="752.3" cy="151.9" r="1.8" fill="#e0242c" opacity="0.45"/><circle cx="735.7" cy="155.5" r="2.6" fill="#e0242c" opacity="0.45"/><circle cx="822.1" cy="123.0" r="3.3" fill="#e0242c" opacity="0.45"/><circle cx="791.2" cy="147.0" r="3.0" fill="#e0242c" opacity="0.45"/><circle cx="776.5" cy="103.8" r="1.9" fill="#e0242c" opacity="0.45"/><circle cx="811.4" cy="153.8" r="3.3" fill="#e0242c" opacity="0.45"/><circle cx="762.0" cy="138.7" r="3.1" fill="#e0242c" opacity="0.45"/><circle cx="790.1" cy="148.5" r="2.6" fill="#e0242c" opacity="0.45"/><circle cx="791.2" cy="140.5" r="2.0" fill="#e0242c" opacity="0.45"/><circle cx="815.9" cy="157.3" r="1.6" fill="#e0242c" opacity="0.45"/><circle cx="820.3" cy="157.6" r="2.8" fill="#e0242c" opacity="0.45"/><circle cx="735.1" cy="153.7" r="1.8" fill="#e0242c" opacity="0.45"/><circle cx="820.1" cy="139.4" r="1.6" fill="#e0242c" opacity="0.45"/><circle cx="746.4" cy="137.4" r="2.6" fill="#e0242c" opacity="0.45"/><circle cx="799.7" cy="155.5" r="1.9" fill="#e0242c" opacity="0.45"/><circle cx="731.3" cy="155.2" r="1.5" fill="#e0242c" opacity="0.45"/><circle cx="811.6" cy="105.2" r="3.1" fill="#e0242c" opacity="0.45"/><circle cx="803.0" cy="247.7" r="2.3" fill="#d02028" opacity="0.35"/><circle cx="811.8" cy="207.1" r="2.5" fill="#d02028" opacity="0.35"/><circle cx="761.4" cy="248.5" r="2.7" fill="#d02028" opacity="0.35"/><circle cx="774.4" cy="226.6" r="1.5" fill="#d02028" opacity="0.35"/><circle cx="734.1" cy="230.7" r="2.2" fill="#d02028" opacity="0.35"/><circle cx="810.6" cy="231.5" r="1.7" fill="#d02028" opacity="0.35"/><circle cx="764.4" cy="241.1" r="2.3" fill="#d02028" opacity="0.35"/><circle cx="732.0" cy="245.3" r="2.7" fill="#d02028" opacity="0.35"/><circle cx="738.8" cy="227.6" r="2.1" fill="#d02028" opacity="0.35"/><circle cx="803.4" cy="213.7" r="1.9" fill="#d02028" opacity="0.35"/><circle cx="775.8" cy="253.0" r="1.6" fill="#d02028" opacity="0.35"/><circle cx="741.5" cy="232.3" r="2.8" fill="#d02028" opacity="0.35"/><circle cx="778.1" cy="221.0" r="2.8" fill="#d02028" opacity="0.35"/><circle cx="802.4" cy="199.0" r="2.8" fill="#d02028" opacity="0.35"/><circle cx="749.0" cy="213.1" r="2.8" fill="#d02028" opacity="0.35"/><circle cx="769.9" cy="242.9" r="1.8" fill="#d02028" opacity="0.35"/><circle cx="811.4" cy="205.6" r="1.7" fill="#d02028" opacity="0.35"/><circle cx="776.5" cy="215.3" r="2.3" fill="#d02028" opacity="0.35"/><circle cx="814.2" cy="237.6" r="1.5" fill="#d02028" opacity="0.35"/><circle cx="759.7" cy="227.7" r="2.2" fill="#d02028" opacity="0.35"/><circle cx="796.8" cy="224.1" r="1.6" fill="#d02028" opacity="0.35"/><circle cx="753.6" cy="245.9" r="2.0" fill="#d02028" opacity="0.35"/><circle cx="801.5" cy="254.1" r="2.4" fill="#d02028" opacity="0.35"/><circle cx="793.3" cy="231.6" r="2.0" fill="#d02028" opacity="0.35"/><circle cx="815.0" cy="223.0" r="2.9" fill="#d02028" opacity="0.35"/></g></g>
<g clip-path="url(#cp3)"><g filter="url(#bl3)"><circle cx="843" cy="246" r="6" fill="#f0242e" opacity="0.85"/><circle cx="852" cy="238" r="5" fill="#f0242e" opacity="0.85"/><circle cx="860" cy="250" r="5" fill="#f0242e" opacity="0.85"/><circle cx="868" cy="244" r="6" fill="#f0242e" opacity="0.85"/><circle cx="876" cy="236" r="5" fill="#f0242e" opacity="0.85"/><circle cx="884" cy="248" r="6" fill="#f0242e" opacity="0.85"/><circle cx="892" cy="240" r="5" fill="#f0242e" opacity="0.85"/><circle cx="900" cy="250" r="5" fill="#f0242e" opacity="0.85"/><circle cx="908" cy="244" r="5" fill="#f0242e" opacity="0.85"/><circle cx="916" cy="252" r="5" fill="#f0242e" opacity="0.85"/><circle cx="924" cy="246" r="5" fill="#f0242e" opacity="0.85"/><circle cx="932" cy="250" r="5" fill="#f0242e" opacity="0.85"/><circle cx="848" cy="262" r="5" fill="#f0242e" opacity="0.85"/><circle cx="864" cy="270" r="4" fill="#f0242e" opacity="0.85"/><circle cx="880" cy="262" r="5" fill="#f0242e" opacity="0.85"/><circle cx="896" cy="272" r="4" fill="#f0242e" opacity="0.85"/><circle cx="850" cy="280" r="4" fill="#f0242e" opacity="0.85"/><circle cx="870" cy="292" r="3" fill="#f0242e" opacity="0.85"/><circle cx="885" cy="98" r="2" fill="#f0242e" opacity="0.85"/><circle cx="897" cy="113" r="3" fill="#f0242e" opacity="0.85"/><circle cx="904" cy="91" r="2" fill="#f0242e" opacity="0.85"/><circle cx="890" cy="330" r="3" fill="#f0242e" opacity="0.85"/><circle cx="872" cy="343" r="3" fill="#f0242e" opacity="0.85"/><circle cx="860" cy="395" r="2" fill="#f0242e" opacity="0.85"/><circle cx="855" cy="410" r="2" fill="#f0242e" opacity="0.85"/><circle cx="905" cy="390" r="2" fill="#f0242e" opacity="0.85"/></g><path d="M830,40 H945 V62 L925,65 L905,69 L880,75 L860,80 L845,84 L830,87Z" fill="#030000" filter="url(#bl3)"/></g>
<rect x="511" y="70" width="97.75" height="393" filter="url(#noise)" opacity="0.3"/>
<rect x="729.75" y="62" width="94.5" height="401" filter="url(#noise)" opacity="0.3"/>
<rect x="729.75" y="62" width="94.5" height="240" filter="url(#noise2)" opacity="0.3"/>
<rect x="729.75" y="302" width="94.5" height="161" filter="url(#noise2)" opacity="0.1"/>
<rect x="511" y="70" width="97.75" height="232" filter="url(#noise2)" opacity="0.28"/>
<rect x="511" y="302" width="97.75" height="161" filter="url(#noise2)" opacity="0.14"/>
<rect x="838.75" y="88" width="98" height="375" filter="url(#noise2)" opacity="0.2"/>
<rect x="620.25" y="80" width="97.5" height="383" filter="url(#noise2)" opacity="0.08"/>
<path d="M513.5,93.00 H824.25" stroke="#fff" stroke-width="3.6" stroke-dasharray="7.2 6.1" fill="none"/>
<path d="M843.3,93.00 H931" stroke="#fff" stroke-width="3.6" stroke-dasharray="7.2 6.1" fill="none"/>
<path d="M513.5,160.25 H824.25" stroke="#fff" stroke-width="3.6" stroke-dasharray="7.2 6.1" fill="none"/>
<path d="M843.3,160.25 H931" stroke="#fff" stroke-width="3.6" stroke-dasharray="7.2 6.1" fill="none"/>
<path d="M513.5,192.75 H824.25" stroke="#fff" stroke-width="3.6" stroke-dasharray="7.2 6.1" fill="none"/>
<path d="M843.3,192.75 H931" stroke="#fff" stroke-width="3.6" stroke-dasharray="7.2 6.1" fill="none"/>
<path d="M513.5,302.00 H824.25" stroke="#fff" stroke-width="3.6" stroke-dasharray="7.2 6.1" fill="none"/>
<path d="M843.3,302.00 H931" stroke="#fff" stroke-width="3.6" stroke-dasharray="7.2 6.1" fill="none"/>
<rect x="608.75" y="40" width="11.50" height="430" fill="#fff"/>
<rect x="717.75" y="40" width="12.00" height="430" fill="#fff"/>
<text x="517.00" y="69.50" font-size="27.5" fill="#f7eaea" textLength="52.0" lengthAdjust="spacingAndGlyphs">Emx</text>
<text x="628.75" y="69.50" font-size="27.5" fill="#f7eaea" textLength="29.0" lengthAdjust="spacingAndGlyphs">PT</text>
<text x="736.25" y="69.50" font-size="27.5" fill="#f7eaea" textLength="20.0" lengthAdjust="spacingAndGlyphs">IT</text>
<text x="844.50" y="69.50" font-size="27.5" fill="#f7eaea" textLength="55.0" lengthAdjust="spacingAndGlyphs">CStr</text>
<text x="929.30" y="85.00" font-size="21" fill="#f7eaea" text-anchor="end" textLength="19.0" lengthAdjust="spacingAndGlyphs">L1</text>
<text x="929.30" y="135.00" font-size="21" fill="#f7eaea" text-anchor="end" textLength="42.5" lengthAdjust="spacingAndGlyphs">L2/3</text>
<text x="929.30" y="184.50" font-size="21" fill="#f7eaea" text-anchor="end" textLength="23.0" lengthAdjust="spacingAndGlyphs">L4</text>
<text x="929.30" y="232.50" font-size="21" fill="#f7eaea" text-anchor="end" textLength="34.0" lengthAdjust="spacingAndGlyphs">L5a</text>
<text x="929.30" y="277.00" font-size="21" fill="#f7eaea" text-anchor="end" textLength="34.0" lengthAdjust="spacingAndGlyphs">L5b</text>
<text x="929.30" y="322.00" font-size="21" fill="#f7eaea" text-anchor="end" textLength="22.5" lengthAdjust="spacingAndGlyphs">L6</text>
<rect x="519" y="447" width="42.25" height="8" fill="#fff"/>
<path d="M1080,124.2 H1288" stroke="#d9d9d9" stroke-width="3.1"/>
<path d="M1080,185.20 H1383.75" stroke="#d9d9d9" stroke-width="3.1"/>
<path d="M1080,246.20 H1383.75" stroke="#d9d9d9" stroke-width="3.1"/>
<path d="M1080,307.20 H1383.75" stroke="#d9d9d9" stroke-width="3.1"/>
<rect x="1098.10" y="117.10" width="38.80" height="252.90" fill="#fff" stroke="#000" stroke-width="2.2"/>
<rect x="1150.35" y="92.35" width="39.30" height="277.65" fill="#6dcff6" stroke="#000" stroke-width="2.2"/>
<rect x="1212.60" y="254.35" width="39.05" height="115.65" fill="#00a651" stroke="#000" stroke-width="2.2"/>
<rect x="1274.85" y="201.85" width="39.30" height="168.15" fill="#c8c8c8" stroke="#000" stroke-width="2.2"/>
<rect x="1336.85" y="246.35" width="39.05" height="123.65" fill="#666666" stroke="#000" stroke-width="2.2"/>
<path d="M1079.25,63 V370 H1383.75" stroke="#222" stroke-width="1.4" fill="none"/>
<path d="M1117.50,108.00 V124.00" stroke="#000" stroke-width="6.2"/>
<path d="M1117.50,110.75 H1117.50 M1117.50,121.25 H1117.50" stroke="#000" stroke-width="5.5"/>
<path d="M1170.00,84.00 V99.00" stroke="#000" stroke-width="6.2"/>
<path d="M1170.00,86.75 H1170.00 M1170.00,96.25 H1170.00" stroke="#000" stroke-width="5.5"/>
<path d="M1232.00,236.00 V271.50" stroke="#000" stroke-width="6.2"/>
<path d="M1226.35,238.75 H1237.65 M1226.35,268.75 H1237.65" stroke="#000" stroke-width="5.5"/>
<path d="M1293.80,178.40 V223.00" stroke="#000" stroke-width="6.2"/>
<path d="M1288.15,181.15 H1299.45 M1288.15,220.25 H1299.45" stroke="#000" stroke-width="5.5"/>
<path d="M1356.50,222.00 V270.00" stroke="#000" stroke-width="6.2"/>
<path d="M1350.85,224.75 H1362.15 M1350.85,267.25 H1362.15" stroke="#000" stroke-width="5.5"/>
<circle cx="1117.50" cy="80.50" r="6.0" fill="#fff" stroke="#000" stroke-width="3.5"/>
<circle cx="1117.50" cy="107.00" r="6.0" fill="#fff" stroke="#000" stroke-width="3.5"/>
<circle cx="1117.50" cy="115.00" r="6.0" fill="#fff" stroke="#000" stroke-width="3.5"/>
<circle cx="1117.50" cy="122.50" r="6.0" fill="#fff" stroke="#000" stroke-width="3.5"/>
<circle cx="1117.50" cy="130.50" r="6.0" fill="#fff" stroke="#000" stroke-width="3.5"/>
<circle cx="1117.50" cy="143.75" r="6.0" fill="#fff" stroke="#000" stroke-width="3.5"/>
<circle cx="1170.00" cy="77.50" r="6.0" fill="#fff" stroke="#000" stroke-width="3.5"/>
<circle cx="1170.00" cy="107.00" r="6.0" fill="#fff" stroke="#000" stroke-width="3.5"/>
<circle cx="1232.00" cy="223.25" r="6.0" fill="#fff" stroke="#000" stroke-width="3.5"/>
<circle cx="1232.00" cy="240.50" r="6.0" fill="#fff" stroke="#000" stroke-width="3.5"/>
<circle cx="1232.00" cy="251.50" r="6.0" fill="#fff" stroke="#000" stroke-width="3.5"/>
<circle cx="1232.00" cy="291.00" r="6.0" fill="#fff" stroke="#000" stroke-width="3.5"/>
<circle cx="1293.80" cy="162.40" r="6.0" fill="#fff" stroke="#000" stroke-width="3.5"/>
<circle cx="1293.80" cy="209.50" r="6.0" fill="#fff" stroke="#000" stroke-width="3.5"/>
<circle cx="1293.80" cy="234.50" r="6.0" fill="#fff" stroke="#000" stroke-width="3.5"/>
<circle cx="1356.50" cy="207.00" r="6.0" fill="#fff" stroke="#000" stroke-width="3.5"/>
<circle cx="1356.50" cy="217.50" r="6.0" fill="#fff" stroke="#000" stroke-width="3.5"/>
<circle cx="1356.50" cy="236.00" r="6.0" fill="#fff" stroke="#000" stroke-width="3.5"/>
<circle cx="1356.50" cy="275.50" r="6.0" fill="#fff" stroke="#000" stroke-width="3.5"/>
<circle cx="1356.50" cy="306.00" r="6.0" fill="#fff" stroke="#000" stroke-width="3.5"/>
<text x="1232.00" y="221.10" font-size="33.5" fill="#000" text-anchor="middle">*</text>
<text x="1293.80" y="159.70" font-size="33.5" fill="#000" text-anchor="middle">*</text>
<text x="1356.30" y="202.30" font-size="33.5" fill="#000" text-anchor="middle">*</text>
<text x="1066.00" y="132.90" font-size="25" fill="#000" text-anchor="end" textLength="28.0" lengthAdjust="spacingAndGlyphs">90</text>
<text x="1066.00" y="193.90" font-size="25" fill="#000" text-anchor="end" textLength="28.0" lengthAdjust="spacingAndGlyphs">80</text>
<text x="1066.00" y="254.90" font-size="25" fill="#000" text-anchor="end" textLength="28.0" lengthAdjust="spacingAndGlyphs">70</text>
<text x="1066.00" y="315.90" font-size="25" fill="#000" text-anchor="end" textLength="28.0" lengthAdjust="spacingAndGlyphs">60</text>
<text transform="translate(1008.00,218.50) rotate(-90)" font-size="27.5" fill="#000" text-anchor="middle" textLength="206.0" lengthAdjust="spacingAndGlyphs">Performance (%)</text>
<text transform="translate(1129.00,397.00) rotate(-45)" font-size="27.5" fill="#000" text-anchor="end" textLength="97.0" lengthAdjust="spacingAndGlyphs">No light</text>
<text transform="translate(1180.00,397.00) rotate(-45)" font-size="27.5" fill="#000" text-anchor="end" textLength="27.0" lengthAdjust="spacingAndGlyphs">V1</text>
<text transform="translate(1241.00,397.00) rotate(-45)" font-size="27.5" fill="#000" text-anchor="end" textLength="104.0" lengthAdjust="spacingAndGlyphs">Auditory</text>
<text transform="translate(1306.00,397.00) rotate(-45)" font-size="27.5" fill="#000" text-anchor="end" textLength="95.0" lengthAdjust="spacingAndGlyphs">Parietal</text>
<text transform="translate(1366.00,397.00) rotate(-45)" font-size="27.5" fill="#000" text-anchor="end" textLength="88.0" lengthAdjust="spacingAndGlyphs">Frontal</text>
<use href="#brain" transform="translate(1366.70,29.70) scale(1.1010,1.1190)" stroke="#111" stroke-width="0.95" fill="none" stroke-linecap="round" stroke-linejoin="round"/>
<circle cx="1351.3" cy="61.5" r="5.5" fill="#000" stroke="none" stroke-width="0.8"/>
<circle cx="1381.9" cy="61.5" r="5.5" fill="#000" stroke="none" stroke-width="0.8"/>
<circle cx="1341.2" cy="115.9" r="4.3" fill="#c8c8c8" stroke="#333" stroke-width="0.8"/>
<circle cx="1391.8" cy="115.9" r="4.3" fill="#c8c8c8" stroke="#333" stroke-width="0.8"/>
<circle cx="1315.7" cy="125.2" r="4.6" fill="#00a651" stroke="#064" stroke-width="0.8"/>
<circle cx="1418.0" cy="125.2" r="4.6" fill="#00a651" stroke="#064" stroke-width="0.8"/>
<circle cx="1333.8" cy="138.3" r="4.5" fill="#6dcff6" stroke="#357" stroke-width="0.8"/>
<circle cx="1399.5" cy="138.3" r="4.5" fill="#6dcff6" stroke="#357" stroke-width="0.8"/>
<text x="1483.30" y="110.60" font-size="27.5" fill="#000" textLength="84.3" lengthAdjust="spacingAndGlyphs">Initiate</text>
<text x="1592.40" y="110.60" font-size="27.5" fill="#000" textLength="120.8" lengthAdjust="spacingAndGlyphs">Response</text>
<rect x="1553" y="120.3" width="37" height="283" fill="#e1e1e1"/>
<path d="M1537.3,120 V342" stroke="#858585" stroke-width="2" stroke-dasharray="7 5.2"/>
<path d="M1609.2,120 V404.5" stroke="#8c8c8c" stroke-width="3" stroke-dasharray="7 5.2"/>
<path d="M1553.4,155.2 V136.4 H1564.6 L1571.8,155.2 Z" fill="#5b9fd2" opacity="0.8"/>
<path d="M1496.3,155.2 H1553.4 V136.4 H1564.6 L1571.8,155.2 H1644.3" stroke="#0f72ba" stroke-width="2.9" fill="none" stroke-linejoin="miter"/>
<text x="1656.00" y="157.40" font-size="27.5" fill="#0f72ba" textLength="120.7" lengthAdjust="spacingAndGlyphs">Early stim</text>
<path d="M1571.8,230.1 V211.3 H1583.0 L1590.2,230.1 Z" fill="#5b9fd2" opacity="0.8"/>
<path d="M1496.3,230.1 H1571.8 V211.3 H1583.0 L1590.2,230.1 H1644.3" stroke="#0f72ba" stroke-width="2.9" fill="none" stroke-linejoin="miter"/>
<text x="1656.00" y="234.20" font-size="27.5" fill="#0f72ba" textLength="111.6" lengthAdjust="spacingAndGlyphs">Late stim</text>
<path d="M1590.1,305.3 V286.5 H1601.3 L1608.5,305.3 Z" fill="#5b9fd2" opacity="0.8"/>
<path d="M1496.3,305.3 H1590.1 V286.5 H1601.3 L1608.5,305.3 H1644.3" stroke="#0f72ba" stroke-width="2.9" fill="none" stroke-linejoin="miter"/>
<text x="1656.00" y="311.50" font-size="27.5" fill="#0f72ba" textLength="70.3" lengthAdjust="spacingAndGlyphs">Delay</text>
<path d="M1609.2,380.5 V361.7 H1620.4 L1627.6,380.5 Z" fill="#5b9fd2" opacity="0.8"/>
<path d="M1496.3,380.5 H1609.2 V361.7 H1620.4 L1627.6,380.5 H1644.3" stroke="#0f72ba" stroke-width="2.9" fill="none" stroke-linejoin="miter"/>
<text x="1656.00" y="388.30" font-size="27.5" fill="#0f72ba" textLength="123.8" lengthAdjust="spacingAndGlyphs">Response</text>
<text x="1485.60" y="361.50" font-size="25" fill="#000" textLength="61.5" lengthAdjust="spacingAndGlyphs">0.5 s</text>
<rect x="1505.8" y="367.7" width="19.7" height="7.5" fill="#000"/>
<text x="1516.50" y="430.90" font-size="27.5" fill="#999" textLength="109.0" lengthAdjust="spacingAndGlyphs">Stimulus</text>
<path d="M104.75,830.83 H489.00" stroke="#d5d5d5" stroke-width="2.7"/>
<path d="M104.75,798.66 H489.00" stroke="#d5d5d5" stroke-width="2.7"/>
<path d="M104.75,766.49 H489.00" stroke="#d5d5d5" stroke-width="2.7"/>
<path d="M104.75,734.32 H489.00" stroke="#d5d5d5" stroke-width="2.7"/>
<path d="M104.75,702.15 H489.00" stroke="#d5d5d5" stroke-width="2.7"/>
<path d="M104.75,863.00 H489.00" stroke="#000" stroke-width="2.6"/>
<path d="M104.75,661.40 V894.90 H489.00" stroke="#222" stroke-width="1.4" fill="none"/>
<clipPath id="cl104"><rect x="84.8" y="621.4" width="444.2" height="275.0"/></clipPath>
<g clip-path="url(#cl104)">
<path d="M157.75,695.25 V766.60" stroke="#969696" stroke-width="7.20"/>
<path d="M150.88,697.95 H164.62 M150.88,763.90 H164.62" stroke="#969696" stroke-width="5.40"/>
<path d="M241.50,738.75 V805.00" stroke="#969696" stroke-width="7.20"/>
<path d="M234.62,741.45 H248.38 M234.62,802.30 H248.38" stroke="#969696" stroke-width="5.40"/>
<path d="M325.25,754.50 V813.75" stroke="#969696" stroke-width="7.20"/>
<path d="M318.38,757.20 H332.12 M318.38,811.05 H332.12" stroke="#969696" stroke-width="5.40"/>
<path d="M409.00,782.50 V843.00" stroke="#969696" stroke-width="7.20"/>
<path d="M402.12,785.20 H415.88 M402.12,840.30 H415.88" stroke="#969696" stroke-width="5.40"/>
<path d="M157.75,732.50 L241.50,776.00 L325.25,784.50 L409.00,813.00" stroke="#969696" stroke-width="6.9" fill="none" stroke-linejoin="round"/>
<circle cx="157.75" cy="732.50" r="5.7" fill="#fff" stroke="#969696" stroke-width="5.7"/>
<circle cx="241.50" cy="776.00" r="5.7" fill="#fff" stroke="#969696" stroke-width="5.7"/>
<circle cx="325.25" cy="784.50" r="5.7" fill="#fff" stroke="#969696" stroke-width="5.7"/>
<circle cx="409.00" cy="813.00" r="5.7" fill="#fff" stroke="#969696" stroke-width="5.7"/>
<path d="M157.75,779.40 V841.00" stroke="#f7941d" stroke-width="7.20"/>
<path d="M150.05,782.90 H165.45 M150.05,837.50 H165.45" stroke="#f7941d" stroke-width="7.00"/>
<path d="M241.50,826.25 V882.25" stroke="#f7941d" stroke-width="7.20"/>
<path d="M233.80,829.75 H249.20 M233.80,878.75 H249.20" stroke="#f7941d" stroke-width="7.00"/>
<path d="M325.25,816.25 V874.25" stroke="#f7941d" stroke-width="7.20"/>
<path d="M317.55,819.75 H332.95 M317.55,870.75 H332.95" stroke="#f7941d" stroke-width="7.00"/>
<path d="M409.00,843.00 V897.00" stroke="#f7941d" stroke-width="7.20"/>
<path d="M401.30,846.50 H416.70 M401.30,893.50 H416.70" stroke="#f7941d" stroke-width="7.00"/>
<path d="M157.75,811.00 L241.50,855.00 L325.25,846.25 L409.00,869.25" stroke="#f7941d" stroke-width="6.9" fill="none" stroke-linejoin="round"/>
<circle cx="157.75" cy="811.00" r="5.7" fill="#fff" stroke="#f7941d" stroke-width="5.7"/>
<circle cx="241.50" cy="855.00" r="5.7" fill="#fff" stroke="#f7941d" stroke-width="5.7"/>
<circle cx="325.25" cy="846.25" r="5.7" fill="#fff" stroke="#f7941d" stroke-width="5.7"/>
<circle cx="409.00" cy="869.25" r="5.7" fill="#fff" stroke="#f7941d" stroke-width="5.7"/>
</g>
<text x="150.80" y="691.25" font-size="33.5" fill="#969696" text-anchor="middle">*</text>
<text x="166.05" y="691.25" font-size="33.5" fill="#f7941d" text-anchor="middle">*</text>
<text x="241.55" y="691.25" font-size="33.5" fill="#969696" text-anchor="middle">*</text>
<text x="326.05" y="691.25" font-size="33.5" fill="#969696" text-anchor="middle">*</text>
<text x="410.55" y="691.25" font-size="33.5" fill="#969696" text-anchor="middle">*</text>
<text x="498.50" y="644.60" font-size="27.5" fill="#969696" text-anchor="end" textLength="54.5" lengthAdjust="spacingAndGlyphs">EMX</text>
<text x="498.50" y="676.20" font-size="27.5" fill="#f7941d" text-anchor="end" textLength="55.5" lengthAdjust="spacingAndGlyphs">CStr</text>
<text x="192.50" y="590.00" font-size="27.5" fill="#000" textLength="235.0" lengthAdjust="spacingAndGlyphs">Auditory inhibition</text>
<use href="#brain" transform="translate(106.90,538.50) scale(1.0000,1.0050)" stroke="#111" stroke-width="0.95" fill="none" stroke-linecap="round" stroke-linejoin="round"/>
<circle cx="59.5" cy="622.8" r="4.6" fill="#000"/>
<circle cx="154.0" cy="622.8" r="4.6" fill="#000"/>
<text transform="translate(33.00,778.00) rotate(-90)" font-size="27.5" fill="#000" text-anchor="middle" textLength="191.0" lengthAdjust="spacingAndGlyphs">Impairment (%)</text>
<text x="92.50" y="871.70" font-size="25" fill="#000" text-anchor="end">0</text>
<text x="92.50" y="807.36" font-size="25" fill="#000" text-anchor="end" textLength="28.6" lengthAdjust="spacingAndGlyphs">20</text>
<text x="92.50" y="743.02" font-size="25" fill="#000" text-anchor="end" textLength="28.6" lengthAdjust="spacingAndGlyphs">40</text>
<text x="104.75" y="928.90" font-size="27.5" fill="#000" textLength="61.0" lengthAdjust="spacingAndGlyphs">Early</text>
<text x="104.75" y="959.50" font-size="27.5" fill="#000" textLength="71.0" lengthAdjust="spacingAndGlyphs">audio</text>
<text x="203.50" y="928.90" font-size="27.5" fill="#000" textLength="54.0" lengthAdjust="spacingAndGlyphs">Late</text>
<text x="203.50" y="959.50" font-size="27.5" fill="#000" textLength="71.0" lengthAdjust="spacingAndGlyphs">audio</text>
<text x="291.00" y="928.90" font-size="27.5" fill="#000" textLength="71.0" lengthAdjust="spacingAndGlyphs">Delay</text>
<text x="382.00" y="928.90" font-size="27.5" fill="#000" textLength="121.0" lengthAdjust="spacingAndGlyphs">Response</text>
<path d="M728.70,828.30 H1112.25" stroke="#d5d5d5" stroke-width="2.7"/>
<path d="M728.70,796.10 H1112.25" stroke="#d5d5d5" stroke-width="2.7"/>
<path d="M728.70,763.90 H1112.25" stroke="#d5d5d5" stroke-width="2.7"/>
<path d="M728.70,731.70 H1033.25" stroke="#d5d5d5" stroke-width="2.7"/>
<path d="M728.70,699.50 H1033.25" stroke="#d5d5d5" stroke-width="2.7"/>
<path d="M728.70,860.50 H1112.25" stroke="#000" stroke-width="2.6"/>
<path d="M728.70,658.80 V892.90 H1112.25" stroke="#222" stroke-width="1.4" fill="none"/>
<clipPath id="cl728"><rect x="708.7" y="618.8" width="443.5" height="275.6"/></clipPath>
<g clip-path="url(#cl728)">
<path d="M780.25,715.75 V764.25" stroke="#969696" stroke-width="6.80"/>
<path d="M773.38,718.55 H787.12 M773.38,761.45 H787.12" stroke="#969696" stroke-width="5.60"/>
<path d="M864.50,746.25 V792.50" stroke="#969696" stroke-width="6.80"/>
<path d="M857.62,749.05 H871.38 M857.62,789.70 H871.38" stroke="#969696" stroke-width="5.60"/>
<path d="M949.00,749.50 V795.00" stroke="#969696" stroke-width="6.80"/>
<path d="M942.12,752.30 H955.88 M942.12,792.20 H955.88" stroke="#969696" stroke-width="5.60"/>
<path d="M1033.25,796.25 V840.00" stroke="#969696" stroke-width="6.80"/>
<path d="M1026.38,799.05 H1040.12 M1026.38,837.20 H1040.12" stroke="#969696" stroke-width="5.60"/>
<path d="M780.25,740.75 L864.50,769.75 L949.00,773.25 L1033.25,819.50" stroke="#969696" stroke-width="6.9" fill="none" stroke-linejoin="round"/>
<circle cx="780.25" cy="740.75" r="5.7" fill="#fff" stroke="#969696" stroke-width="5.7"/>
<circle cx="864.50" cy="769.75" r="5.7" fill="#fff" stroke="#969696" stroke-width="5.7"/>
<circle cx="949.00" cy="773.25" r="5.7" fill="#fff" stroke="#969696" stroke-width="5.7"/>
<circle cx="1033.25" cy="819.50" r="5.7" fill="#fff" stroke="#969696" stroke-width="5.7"/>
<path d="M780.25,826.00 V854.40" stroke="#f7941d" stroke-width="6.60"/>
<path d="M772.50,828.75 H788.00 M772.50,851.65 H788.00" stroke="#f7941d" stroke-width="5.50"/>
<path d="M864.50,830.00 V858.00" stroke="#f7941d" stroke-width="6.60"/>
<path d="M856.75,832.75 H872.25 M856.75,855.25 H872.25" stroke="#f7941d" stroke-width="5.50"/>
<path d="M949.00,850.00 V873.75" stroke="#f7941d" stroke-width="6.60"/>
<path d="M941.25,852.75 H956.75 M941.25,871.00 H956.75" stroke="#f7941d" stroke-width="5.50"/>
<path d="M1033.25,846.00 V877.50" stroke="#f7941d" stroke-width="6.60"/>
<path d="M1025.50,848.75 H1041.00 M1025.50,874.75 H1041.00" stroke="#f7941d" stroke-width="5.50"/>
<path d="M780.25,840.00 L864.50,843.75 L949.00,863.25 L1033.25,860.00" stroke="#f7941d" stroke-width="6.9" fill="none" stroke-linejoin="round"/>
<circle cx="780.25" cy="840.00" r="5.7" fill="#fff" stroke="#f7941d" stroke-width="5.7"/>
<circle cx="864.50" cy="843.75" r="5.7" fill="#fff" stroke="#f7941d" stroke-width="5.7"/>
<circle cx="949.00" cy="863.25" r="5.7" fill="#fff" stroke="#f7941d" stroke-width="5.7"/>
<circle cx="1033.25" cy="860.00" r="5.7" fill="#fff" stroke="#f7941d" stroke-width="5.7"/>
<path d="M780.25,821.25 V863.10" stroke="#00dc00" stroke-width="6.60"/>
<path d="M773.38,824.05 H787.12 M773.38,860.30 H787.12" stroke="#00dc00" stroke-width="5.60"/>
<path d="M864.50,812.50 V850.00" stroke="#00dc00" stroke-width="6.60"/>
<path d="M857.62,815.30 H871.38 M857.62,847.20 H871.38" stroke="#00dc00" stroke-width="5.60"/>
<path d="M949.00,822.50 V861.25" stroke="#00dc00" stroke-width="6.60"/>
<path d="M942.12,825.30 H955.88 M942.12,858.45 H955.88" stroke="#00dc00" stroke-width="5.60"/>
<path d="M1033.25,845.00 V884.75" stroke="#00dc00" stroke-width="6.60"/>
<path d="M1026.38,847.80 H1040.12 M1026.38,881.95 H1040.12" stroke="#00dc00" stroke-width="5.60"/>
<path d="M780.25,842.25 L864.50,831.25 L949.00,842.50 L1033.25,864.50" stroke="#00dc00" stroke-width="6.9" fill="none" stroke-linejoin="round"/>
<circle cx="780.25" cy="842.25" r="5.7" fill="#fff" stroke="#00dc00" stroke-width="5.7"/>
<circle cx="864.50" cy="831.25" r="5.7" fill="#fff" stroke="#00dc00" stroke-width="5.7"/>
<circle cx="949.00" cy="842.50" r="5.7" fill="#fff" stroke="#00dc00" stroke-width="5.7"/>
<circle cx="1033.25" cy="864.50" r="5.7" fill="#fff" stroke="#00dc00" stroke-width="5.7"/>
<path d="M780.25,772.90 V817.75" stroke="#0000ff" stroke-width="6.60"/>
<path d="M773.38,775.85 H787.12 M773.38,814.80 H787.12" stroke="#0000ff" stroke-width="5.90"/>
<path d="M864.50,782.50 V828.00" stroke="#0000ff" stroke-width="6.60"/>
<path d="M857.62,785.45 H871.38 M857.62,825.05 H871.38" stroke="#0000ff" stroke-width="5.90"/>
<path d="M949.00,787.00 V830.00" stroke="#0000ff" stroke-width="6.60"/>
<path d="M942.12,789.95 H955.88 M942.12,827.05 H955.88" stroke="#0000ff" stroke-width="5.90"/>
<path d="M1033.25,825.50 V863.75" stroke="#0000ff" stroke-width="6.60"/>
<path d="M1026.38,828.45 H1040.12 M1026.38,860.80 H1040.12" stroke="#0000ff" stroke-width="5.90"/>
<path d="M780.25,796.25 L864.50,805.75 L949.00,809.25 L1033.25,846.25" stroke="#0000ff" stroke-width="6.9" fill="none" stroke-linejoin="round"/>
<circle cx="780.25" cy="796.25" r="5.7" fill="#fff" stroke="#0000ff" stroke-width="5.7"/>
<circle cx="864.50" cy="805.75" r="5.7" fill="#fff" stroke="#0000ff" stroke-width="5.7"/>
<circle cx="949.00" cy="809.25" r="5.7" fill="#fff" stroke="#0000ff" stroke-width="5.7"/>
<circle cx="1033.25" cy="846.25" r="5.7" fill="#fff" stroke="#0000ff" stroke-width="5.7"/>
</g>
<text x="773.55" y="695.00" font-size="33.5" fill="#969696" text-anchor="middle">*</text>
<text x="788.55" y="695.00" font-size="33.5" fill="#0000ff" text-anchor="middle">*</text>
<text x="857.80" y="695.00" font-size="33.5" fill="#969696" text-anchor="middle">*</text>
<text x="872.80" y="695.00" font-size="33.5" fill="#0000ff" text-anchor="middle">*</text>
<text x="942.05" y="695.00" font-size="33.5" fill="#969696" text-anchor="middle">*</text>
<text x="957.05" y="695.00" font-size="33.5" fill="#0000ff" text-anchor="middle">*</text>
<text x="1034.05" y="695.00" font-size="33.5" fill="#969696" text-anchor="middle">*</text>
<text x="1121.50" y="642.20" font-size="27.5" fill="#969696" text-anchor="end" textLength="54.5" lengthAdjust="spacingAndGlyphs">EMX</text>
<text x="1121.50" y="673.40" font-size="27.5" fill="#0000ff" text-anchor="end" textLength="29.5" lengthAdjust="spacingAndGlyphs">PT</text>
<text x="1121.50" y="704.60" font-size="27.5" fill="#00dc00" text-anchor="end" textLength="21.0" lengthAdjust="spacingAndGlyphs">IT</text>
<text x="1121.50" y="735.80" font-size="27.5" fill="#f7941d" text-anchor="end" textLength="55.5" lengthAdjust="spacingAndGlyphs">CStr</text>
<text x="827.30" y="588.00" font-size="27.5" fill="#000" textLength="221.0" lengthAdjust="spacingAndGlyphs">Parietal inhibition</text>
<use href="#brain" transform="translate(730.50,536.80) scale(1.0000,1.0050)" stroke="#111" stroke-width="0.95" fill="none" stroke-linecap="round" stroke-linejoin="round"/>
<circle cx="707.5" cy="614.5" r="5.0" fill="#000"/>
<circle cx="753.0" cy="614.5" r="5.0" fill="#000"/>
<text transform="translate(657.00,775.50) rotate(-90)" font-size="27.5" fill="#000" text-anchor="middle" textLength="191.0" lengthAdjust="spacingAndGlyphs">Impairment (%)</text>
<text x="715.50" y="869.20" font-size="25" fill="#000" text-anchor="end">0</text>
<text x="715.50" y="804.80" font-size="25" fill="#000" text-anchor="end" textLength="28.6" lengthAdjust="spacingAndGlyphs">20</text>
<text x="715.50" y="740.40" font-size="25" fill="#000" text-anchor="end" textLength="28.6" lengthAdjust="spacingAndGlyphs">40</text>
<text x="729.00" y="928.90" font-size="27.5" fill="#000" textLength="61.0" lengthAdjust="spacingAndGlyphs">Early</text>
<text x="729.00" y="959.50" font-size="27.5" fill="#000" textLength="71.0" lengthAdjust="spacingAndGlyphs">audio</text>
<text x="827.25" y="928.90" font-size="27.5" fill="#000" textLength="54.0" lengthAdjust="spacingAndGlyphs">Late</text>
<text x="827.25" y="959.50" font-size="27.5" fill="#000" textLength="71.0" lengthAdjust="spacingAndGlyphs">audio</text>
<text x="914.50" y="928.90" font-size="27.5" fill="#000" textLength="71.0" lengthAdjust="spacingAndGlyphs">Delay</text>
<text x="1005.75" y="928.90" font-size="27.5" fill="#000" textLength="121.0" lengthAdjust="spacingAndGlyphs">Response</text>
<path d="M1357.25,830.83 H1741.50" stroke="#d5d5d5" stroke-width="2.7"/>
<path d="M1357.25,798.66 H1741.50" stroke="#d5d5d5" stroke-width="2.7"/>
<path d="M1357.25,766.49 H1741.50" stroke="#d5d5d5" stroke-width="2.7"/>
<path d="M1357.25,734.32 H1661.75" stroke="#d5d5d5" stroke-width="2.7"/>
<path d="M1357.25,702.15 H1661.75" stroke="#d5d5d5" stroke-width="2.7"/>
<path d="M1357.25,863.00 H1741.50" stroke="#000" stroke-width="2.6"/>
<path d="M1357.25,661.40 V894.90 H1741.50" stroke="#222" stroke-width="1.4" fill="none"/>
<clipPath id="cl1357"><rect x="1337.2" y="621.4" width="444.2" height="275.0"/></clipPath>
<g clip-path="url(#cl1357)">
<path d="M1409.00,717.50 V767.00" stroke="#969696" stroke-width="6.25"/>
<path d="M1404.25,720.20 H1413.75 M1404.25,764.30 H1413.75" stroke="#969696" stroke-width="5.40"/>
<path d="M1493.25,712.50 V763.00" stroke="#969696" stroke-width="6.25"/>
<path d="M1488.50,715.20 H1498.00 M1488.50,760.30 H1498.00" stroke="#969696" stroke-width="5.40"/>
<path d="M1577.75,658.75 V708.75" stroke="#969696" stroke-width="6.25"/>
<path d="M1573.00,661.45 H1582.50 M1573.00,706.05 H1582.50" stroke="#969696" stroke-width="5.40"/>
<path d="M1661.75,755.00 V800.00" stroke="#969696" stroke-width="6.25"/>
<path d="M1657.00,757.70 H1666.50 M1657.00,797.30 H1666.50" stroke="#969696" stroke-width="5.40"/>
<path d="M1409.00,742.75 L1493.25,738.00 L1577.75,684.50 L1661.75,777.50" stroke="#969696" stroke-width="6.9" fill="none" stroke-linejoin="round"/>
<circle cx="1409.00" cy="742.75" r="5.7" fill="#fff" stroke="#969696" stroke-width="5.7"/>
<circle cx="1493.25" cy="738.00" r="5.7" fill="#fff" stroke="#969696" stroke-width="5.7"/>
<circle cx="1577.75" cy="684.50" r="5.7" fill="#fff" stroke="#969696" stroke-width="5.7"/>
<circle cx="1661.75" cy="777.50" r="5.7" fill="#fff" stroke="#969696" stroke-width="5.7"/>
<path d="M1409.00,766.50 V796.00" stroke="#f7941d" stroke-width="6.25"/>
<path d="M1401.35,769.30 H1416.65 M1401.35,793.20 H1416.65" stroke="#f7941d" stroke-width="5.60"/>
<path d="M1493.25,788.75 V818.75" stroke="#f7941d" stroke-width="6.25"/>
<path d="M1485.60,791.55 H1500.90 M1485.60,815.95 H1500.90" stroke="#f7941d" stroke-width="5.60"/>
<path d="M1577.75,762.50 V799.25" stroke="#f7941d" stroke-width="6.25"/>
<path d="M1570.10,765.30 H1585.40 M1570.10,796.45 H1585.40" stroke="#f7941d" stroke-width="5.60"/>
<path d="M1661.75,801.25 V831.00" stroke="#f7941d" stroke-width="6.25"/>
<path d="M1654.10,804.05 H1669.40 M1654.10,828.20 H1669.40" stroke="#f7941d" stroke-width="5.60"/>
<path d="M1409.00,783.75 L1493.25,803.75 L1577.75,781.25 L1661.75,816.25" stroke="#f7941d" stroke-width="6.9" fill="none" stroke-linejoin="round"/>
<circle cx="1409.00" cy="783.75" r="5.7" fill="#fff" stroke="#f7941d" stroke-width="5.7"/>
<circle cx="1493.25" cy="803.75" r="5.7" fill="#fff" stroke="#f7941d" stroke-width="5.7"/>
<circle cx="1577.75" cy="781.25" r="5.7" fill="#fff" stroke="#f7941d" stroke-width="5.7"/>
<circle cx="1661.75" cy="816.25" r="5.7" fill="#fff" stroke="#f7941d" stroke-width="5.7"/>
<path d="M1409.00,754.60 V797.00" stroke="#00dc00" stroke-width="6.25"/>
<path d="M1401.35,757.40 H1416.65 M1401.35,794.20 H1416.65" stroke="#00dc00" stroke-width="5.60"/>
<path d="M1493.25,750.00 V796.25" stroke="#00dc00" stroke-width="6.25"/>
<path d="M1485.60,752.80 H1500.90 M1485.60,793.45 H1500.90" stroke="#00dc00" stroke-width="5.60"/>
<path d="M1577.75,730.00 V778.00" stroke="#00dc00" stroke-width="6.25"/>
<path d="M1570.10,732.80 H1585.40 M1570.10,775.20 H1585.40" stroke="#00dc00" stroke-width="5.60"/>
<path d="M1661.75,811.25 V854.50" stroke="#00dc00" stroke-width="6.25"/>
<path d="M1654.10,814.05 H1669.40 M1654.10,851.70 H1669.40" stroke="#00dc00" stroke-width="5.60"/>
<path d="M1409.00,779.40 L1493.25,772.50 L1577.75,757.50 L1661.75,833.75" stroke="#00dc00" stroke-width="6.9" fill="none" stroke-linejoin="round"/>
<circle cx="1409.00" cy="779.40" r="5.7" fill="#fff" stroke="#00dc00" stroke-width="5.7"/>
<circle cx="1493.25" cy="772.50" r="5.7" fill="#fff" stroke="#00dc00" stroke-width="5.7"/>
<circle cx="1577.75" cy="757.50" r="5.7" fill="#fff" stroke="#00dc00" stroke-width="5.7"/>
<circle cx="1661.75" cy="833.75" r="5.7" fill="#fff" stroke="#00dc00" stroke-width="5.7"/>
<path d="M1409.00,785.00 V826.50" stroke="#0000ff" stroke-width="6.25"/>
<path d="M1401.25,787.80 H1416.75 M1401.25,823.70 H1416.75" stroke="#0000ff" stroke-width="5.60"/>
<path d="M1493.25,743.75 V786.25" stroke="#0000ff" stroke-width="6.25"/>
<path d="M1485.50,746.55 H1501.00 M1485.50,783.45 H1501.00" stroke="#0000ff" stroke-width="5.60"/>
<path d="M1577.75,733.75 V778.00" stroke="#0000ff" stroke-width="6.25"/>
<path d="M1570.00,736.55 H1585.50 M1570.00,775.20 H1585.50" stroke="#0000ff" stroke-width="5.60"/>
<path d="M1661.75,739.50 V783.75" stroke="#0000ff" stroke-width="6.25"/>
<path d="M1654.00,742.30 H1669.50 M1654.00,780.95 H1669.50" stroke="#0000ff" stroke-width="5.60"/>
<path d="M1409.00,803.75 L1493.25,766.25 L1577.75,756.75 L1661.75,762.50" stroke="#0000ff" stroke-width="6.9" fill="none" stroke-linejoin="round"/>
<circle cx="1409.00" cy="803.75" r="5.7" fill="#fff" stroke="#0000ff" stroke-width="5.7"/>
<circle cx="1493.25" cy="766.25" r="5.7" fill="#fff" stroke="#0000ff" stroke-width="5.7"/>
<circle cx="1577.75" cy="756.75" r="5.7" fill="#fff" stroke="#0000ff" stroke-width="5.7"/>
<circle cx="1661.75" cy="762.50" r="5.7" fill="#fff" stroke="#0000ff" stroke-width="5.7"/>
</g>
<text x="1387.30" y="697.00" font-size="33.5" fill="#969696" text-anchor="middle">*</text>
<text x="1402.30" y="697.00" font-size="33.5" fill="#0000ff" text-anchor="middle">*</text>
<text x="1417.30" y="697.00" font-size="33.5" fill="#f7941d" text-anchor="middle">*</text>
<text x="1432.30" y="697.00" font-size="33.5" fill="#00f000" text-anchor="middle">*</text>
<text x="1471.30" y="697.00" font-size="33.5" fill="#969696" text-anchor="middle">*</text>
<text x="1486.30" y="697.00" font-size="33.5" fill="#0000ff" text-anchor="middle">*</text>
<text x="1501.30" y="697.00" font-size="33.5" fill="#f7941d" text-anchor="middle">*</text>
<text x="1516.30" y="697.00" font-size="33.5" fill="#00f000" text-anchor="middle">*</text>
<text x="1555.30" y="658.75" font-size="33.5" fill="#969696" text-anchor="middle">*</text>
<text x="1570.30" y="658.75" font-size="33.5" fill="#0000ff" text-anchor="middle">*</text>
<text x="1585.80" y="658.75" font-size="33.5" fill="#f7941d" text-anchor="middle">*</text>
<text x="1600.80" y="658.75" font-size="33.5" fill="#00f000" text-anchor="middle">*</text>
<text x="1647.30" y="697.00" font-size="33.5" fill="#969696" text-anchor="middle">*</text>
<text x="1662.30" y="697.00" font-size="33.5" fill="#0000ff" text-anchor="middle">*</text>
<text x="1677.30" y="697.00" font-size="33.5" fill="#f7941d" text-anchor="middle">*</text>
<text x="1764.00" y="643.20" font-size="27.5" fill="#969696" text-anchor="end" textLength="54.5" lengthAdjust="spacingAndGlyphs">EMX</text>
<text x="1764.00" y="674.65" font-size="27.5" fill="#0000ff" text-anchor="end" textLength="29.5" lengthAdjust="spacingAndGlyphs">PT</text>
<text x="1764.00" y="706.10" font-size="27.5" fill="#00dc00" text-anchor="end" textLength="21.0" lengthAdjust="spacingAndGlyphs">IT</text>
<text x="1764.00" y="737.55" font-size="27.5" fill="#f7941d" text-anchor="end" textLength="55.5" lengthAdjust="spacingAndGlyphs">CStr</text>
<text x="1455.50" y="590.00" font-size="27.5" fill="#000" textLength="217.0" lengthAdjust="spacingAndGlyphs">Frontal inhibition</text>
<use href="#brain" transform="translate(1357.25,538.50) scale(1.0000,1.0050)" stroke="#111" stroke-width="0.95" fill="none" stroke-linecap="round" stroke-linejoin="round"/>
<circle cx="1343.2" cy="567.5" r="5.0" fill="#000"/>
<circle cx="1370.2" cy="567.5" r="5.0" fill="#000"/>
<text transform="translate(1291.50,778.00) rotate(-90)" font-size="27.5" fill="#000" text-anchor="middle" textLength="191.0" lengthAdjust="spacingAndGlyphs">Impairment (%)</text>
<text x="1344.50" y="871.70" font-size="25" fill="#000" text-anchor="end">0</text>
<text x="1344.50" y="807.36" font-size="25" fill="#000" text-anchor="end" textLength="28.6" lengthAdjust="spacingAndGlyphs">20</text>
<text x="1344.50" y="743.02" font-size="25" fill="#000" text-anchor="end" textLength="28.6" lengthAdjust="spacingAndGlyphs">40</text>
<text x="1349.00" y="928.90" font-size="27.5" fill="#000" textLength="61.0" lengthAdjust="spacingAndGlyphs">Early</text>
<text x="1349.00" y="959.50" font-size="27.5" fill="#000" textLength="71.0" lengthAdjust="spacingAndGlyphs">audio</text>
<text x="1447.00" y="928.90" font-size="27.5" fill="#000" textLength="54.0" lengthAdjust="spacingAndGlyphs">Late</text>
<text x="1447.00" y="959.50" font-size="27.5" fill="#000" textLength="71.0" lengthAdjust="spacingAndGlyphs">audio</text>
<text x="1535.00" y="928.90" font-size="27.5" fill="#000" textLength="71.0" lengthAdjust="spacingAndGlyphs">Delay</text>
<text x="1626.00" y="928.90" font-size="27.5" fill="#000" textLength="121.0" lengthAdjust="spacingAndGlyphs">Response</text>
</svg>
</body></html>
